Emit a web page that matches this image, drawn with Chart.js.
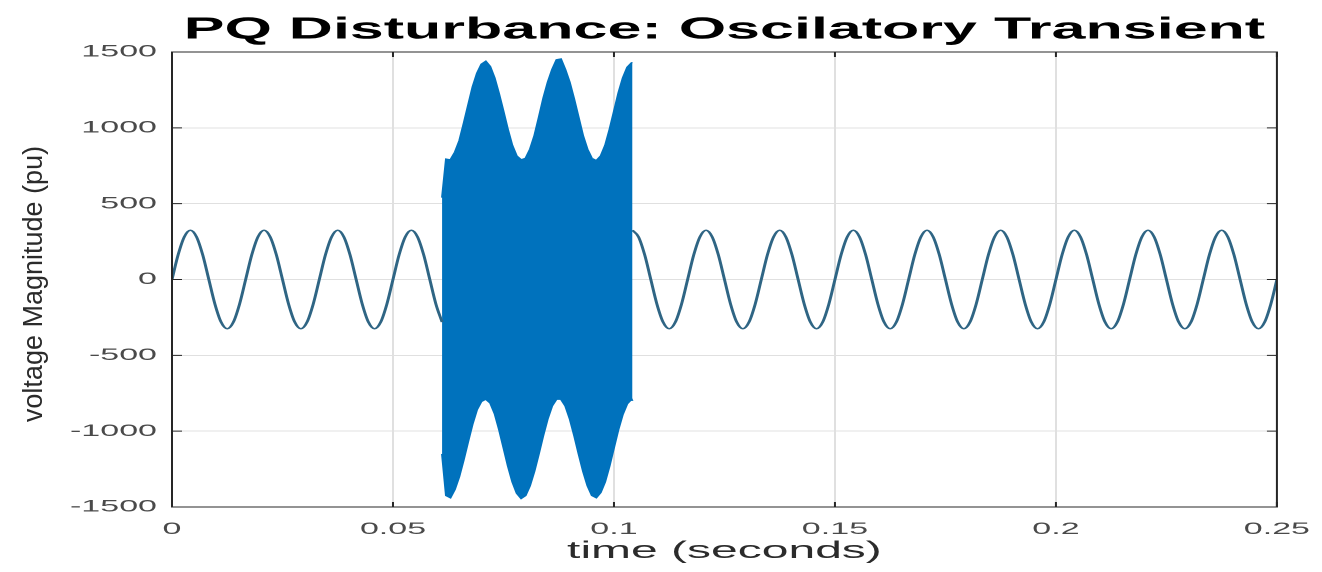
<!DOCTYPE html>
<html>
<head>
<meta charset="utf-8">
<script src="https://cdn.jsdelivr.net/npm/chart.js@4.4.1/dist/chart.umd.min.js"></script>
<style>
  html, body { margin: 0; padding: 0; background: #fff; overflow: hidden; }
  /* the reference picture is stretched about 2x sideways, so draw narrow and stretch */
  #wrap { width: 667px; height: 572px; transform: scaleX(2); transform-origin: 0 0; }
</style>
</head>
<body>
<div id="wrap"><canvas id="chart" width="667" height="572"></canvas></div>
<script>
// sampled 60 Hz supply voltage, 12 samples per cycle
var sampleStep = 1 / 720;
var preStart = 0;
var preValues = [
    0, 163, 281, 325, 281, 163, 0, -163, -281, -325, -281, -163,
    0, 163, 281, 325, 281, 163, 0, -163, -281, -325, -281, -163,
    0, 163, 281, 325, 281, 163, 0, -163, -281, -325, -281, -163,
    0, 163, 281, 325, 281, 163, 0, -163, -281
];
var postStart = 0.10417;
var postValues = [
    325, 281, 163, 0, -163, -281, -325, -281, -163, 0, 163, 281,
    325, 281, 163, 0, -163, -281, -325, -281, -163, 0, 163, 281,
    325, 281, 163, 0, -163, -281, -325, -281, -163, 0, 163, 281,
    325, 281, 163, 0, -163, -281, -325, -281, -163, 0, 163, 281,
    325, 281, 163, 0, -163, -281, -325, -281, -163, 0, 163, 281,
    325, 281, 163, 0, -163, -281, -325, -281, -163, 0, 163, 281,
    325, 281, 163, 0, -163, -281, -325, -281, -163, 0, 163, 281,
    325, 281, 163, 0, -163, -281, -325, -281, -163, 0, 163, 281,
    325, 281, 163, 0, -163, -281, -325, -281, -163, 0
];

// oscillatory transient: upper and lower envelope
var transientTimes = [
    0.0611, 0.062, 0.063, 0.064, 0.065, 0.066, 0.067, 0.068, 0.069, 0.070,
    0.071, 0.072, 0.073, 0.074, 0.075, 0.076, 0.077, 0.078, 0.079, 0.080,
    0.081, 0.082, 0.083, 0.084, 0.085, 0.086, 0.087, 0.088, 0.089, 0.090,
    0.091, 0.092, 0.093, 0.094, 0.095, 0.096, 0.097, 0.098, 0.099, 0.100,
    0.101, 0.102, 0.103, 0.104, 0.1042
];
var upperEnv = [
    540, 795, 790, 840, 915, 1030, 1150, 1270, 1360, 1420,
    1440, 1405, 1330, 1225, 1110, 990, 885, 815, 790, 800,
    860, 950, 1070, 1195, 1300, 1385, 1450, 1455, 1385, 1300,
    1190, 1070, 950, 860, 800, 785, 815, 885, 990, 1110,
    1230, 1330, 1400, 1430, 1430
];
var lowerEnv = [
    -1150, -1425, -1440, -1385, -1300, -1190, -1070, -955, -860, -805,
    -790, -815, -885, -990, -1110, -1230, -1335, -1410, -1445, -1425,
    -1360, -1265, -1150, -1030, -920, -835, -790, -790, -835, -920,
    -1030, -1150, -1265, -1360, -1425, -1440, -1405, -1335, -1230, -1110,
    -990, -890, -820, -790, -800
];

var xTickLabels = ['0', '0.05', '0.1', '0.15', '0.2', '0.25'];
var yTickLabels = ['-1500', '-1000', '-500', '0', '500', '1000', '1500'];
var titleText = 'PQ Disturbance: Oscilatory Transient';
var xTitle = 'time (seconds)';
var yTitle = 'voltage Magnitude (pu)';

function sampled(start, values) {
    return values.map(function(v, i) { return {x: start + i * sampleStep, y: v}; });
}
function paired(times, values) {
    return values.map(function(v, i) { return {x: times[i], y: v}; });
}

var boxPlugin = {
    id: 'boxPlugin',
    afterDraw: function(chart) {
        var ctx = chart.ctx, a = chart.chartArea, x = chart.scales.x, y = chart.scales.y;
        ctx.save();
        ctx.strokeStyle = '#262626';
        ctx.lineWidth = 1;
        ctx.beginPath();
        x.ticks.forEach(function(t) {
            var px = x.getPixelForValue(t.value);
            ctx.moveTo(px, a.bottom); ctx.lineTo(px, a.bottom - 5);
            ctx.moveTo(px, a.top); ctx.lineTo(px, a.top + 5);
        });
        y.ticks.forEach(function(t) {
            var py = y.getPixelForValue(t.value);
            ctx.moveTo(a.left, py); ctx.lineTo(a.left + 5, py);
            ctx.moveTo(a.right, py); ctx.lineTo(a.right - 5, py);
        });
        ctx.stroke();
        ctx.strokeRect(a.left, a.top, a.right - a.left, a.bottom - a.top);
        // y label is not stretched in the reference, so undo the stretch here
        ctx.translate(17.5, 284);
        ctx.scale(0.5, 1);
        ctx.rotate(-Math.PI / 2);
        ctx.fillStyle = '#2b2b2b';
        ctx.font = '27px "Liberation Sans", Arial, sans-serif';
        ctx.textAlign = 'center';
        ctx.textBaseline = 'middle';
        ctx.fillText(yTitle, 0, 0);
        ctx.restore();
    }
};

var lineColor = '#2f6584';
var blue = '#0072BD';

new Chart(document.getElementById('chart'), {
    type: 'line',
    data: {
        datasets: [
            {data: sampled(preStart, preValues), borderColor: lineColor, borderWidth: 1.5,
             cubicInterpolationMode: 'monotone', pointRadius: 0, fill: false},
            {data: paired(transientTimes, upperEnv), borderColor: blue, backgroundColor: blue,
             borderWidth: 1, pointRadius: 0, tension: 0, fill: '+1'},
            {data: paired(transientTimes, lowerEnv), borderColor: blue, backgroundColor: blue,
             borderWidth: 1, pointRadius: 0, tension: 0, fill: false},
            {data: sampled(postStart, postValues), borderColor: lineColor, borderWidth: 1.5,
             cubicInterpolationMode: 'monotone', pointRadius: 0, fill: false}
        ]
    },
    options: {
        responsive: false,
        devicePixelRatio: 2,
        animation: false,
        layout: {padding: {left: 0, right: 0, top: 0, bottom: 0}},
        plugins: {
            legend: {display: false},
            tooltip: {enabled: false},
            title: {
                display: true,
                text: titleText,
                fullSize: false,
                color: '#000',
                font: {family: 'Liberation Sans', size: 30.5, weight: 'bold'},
                padding: {top: 12, bottom: 3.4}
            }
        },
        scales: {
            x: {
                type: 'linear',
                min: 0,
                max: 0.25,
                afterFit: function(s) { s.height = 65; },
                ticks: {
                    stepSize: 0.05,
                    padding: 12,
                    color: '#4a4a4a',
                    font: {family: 'Liberation Sans', size: 17},
                    callback: function(v, i) { return xTickLabels[i]; }
                },
                grid: {color: '#e0e0e0', lineWidth: 1, drawTicks: false},
                border: {display: false},
                title: {
                    display: true,
                    text: xTitle,
                    color: '#2b2b2b',
                    font: {family: 'Liberation Sans', size: 24},
                    padding: {top: 0, bottom: 6}
                }
            },
            y: {
                min: -1500,
                max: 1500,
                afterFit: function(s) { s.width = 86; },
                ticks: {
                    stepSize: 500,
                    padding: 7.5,
                    color: '#4a4a4a',
                    font: {family: 'Liberation Sans', size: 17},
                    callback: function(v, i) { return yTickLabels[i]; }
                },
                grid: {color: '#e0e0e0', lineWidth: 1, drawTicks: false},
                border: {display: false}
            }
        }
    },
    plugins: [boxPlugin]
});
</script>
</body>
</html>
